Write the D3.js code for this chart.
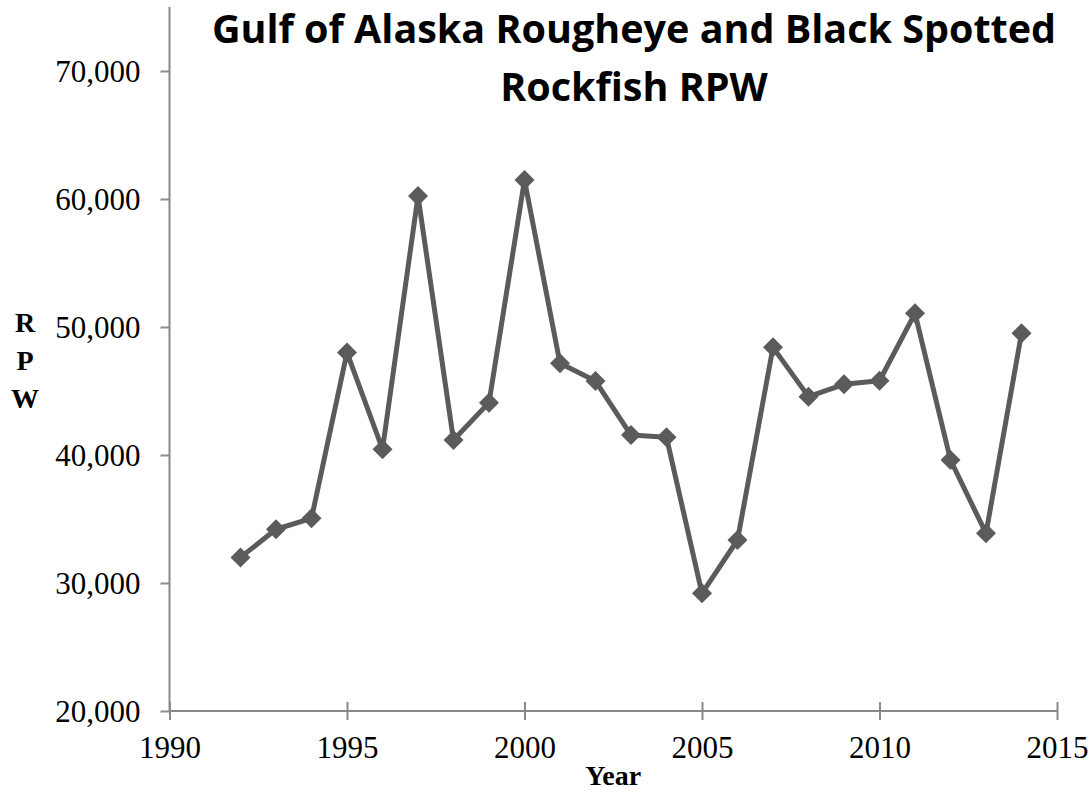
<!DOCTYPE html>
<html lang="en">
<head>
    <meta charset="UTF-8">
    <script src="https://d3js.org/d3.v7.min.js"></script>
    <style>
        body { margin: 0; background: #fff; }
        .tick-label { font-family: "Liberation Serif", "Times New Roman", serif; font-size: 31px; fill: #000; }
        .axis-title { font-family: "Liberation Serif", "Times New Roman", serif; font-size: 28px; font-weight: bold; fill: #000; }
        .title { font-family: "Open Sans", Calibri, sans-serif; font-size: 39.5px; font-weight: bold; fill: #000; }
    </style>
</head>
<body>
    <svg id="canvas" width="1091" height="792"></svg>
    <script>
        // data
        const years = [1992, 1993, 1994, 1995, 1996, 1997, 1998, 1999, 2000, 2001, 2002, 2003,
            2004, 2005, 2006, 2007, 2008, 2009, 2010, 2011, 2012, 2013, 2014];
        const rpw = [32000, 34200, 35050, 48000, 40450, 60230, 41170, 44090, 61480, 47160, 45780, 41560,
            41380, 29190, 33360, 48410, 44560, 45520, 45800, 51070, 39610, 33880, 49510];
        const xTicks = [1990, 1995, 2000, 2005, 2010, 2015];
        const yTicks = [20000, 30000, 40000, 50000, 60000, 70000];
        const titleLines = ["Gulf of Alaska Rougheye and Black Spotted", "Rockfish RPW"];

        const data = years.map((y, i) => ({ year: y, value: rpw[i] }));

        let svg = d3.select("#canvas");
        const axisColor = "#898989";
        const lineColor = "#5b5b5b";

        const xScale = d3.scaleLinear().domain([1990, 2015]).range([169.5, 1057]);
        const yScale = d3.scaleLinear().domain([20000, 75000]).range([711, 7]);

        // y axis
        let yAxis = svg.append("g").attr("transform", `translate(${xScale(1990)},0)`)
            .call(d3.axisLeft(yScale).tickValues(yTicks).tickSize(9).tickPadding(20)
                .tickFormat(d3.format(",")));
        yAxis.select(".domain").attr("stroke", axisColor).attr("stroke-width", 2)
            .attr("d", `M0,${yScale(20000)}V${yScale(75000)}`);
        yAxis.selectAll(".tick line").attr("stroke", axisColor).attr("stroke-width", 2);
        yAxis.selectAll(".tick text").attr("class", "tick-label").attr("dy", "0.34em");

        // x axis
        let xAxis = svg.append("g").attr("transform", `translate(0,${yScale(20000)})`)
            .call(d3.axisBottom(xScale).tickValues(xTicks).tickSize(9)
                .tickFormat(d3.format("d")));
        xAxis.select(".domain").attr("stroke", axisColor).attr("stroke-width", 2)
            .attr("d", `M${xScale(1990)},0H${xScale(2015)}`);
        xAxis.selectAll(".tick line").attr("stroke", axisColor).attr("stroke-width", 2)
            .attr("y1", -9).attr("y2", 9);
        xAxis.selectAll(".tick text").attr("class", "tick-label").attr("y", 47).attr("dy", null);

        // axis titles
        svg.append("text").attr("class", "axis-title")
            .attr("x", (xScale(1990) + xScale(2015)) / 2).attr("y", 785)
            .attr("text-anchor", "middle").text("Year");
        svg.append("g").selectAll("text")
            .data(["R", "P", "W"])
            .join("text")
            .attr("class", "axis-title")
            .attr("x", 25).attr("y", (d, i) => 332 + i * 38)
            .attr("text-anchor", "middle")
            .text(d => d);

        // title
        svg.append("g").selectAll("text")
            .data(titleLines)
            .join("text")
            .attr("class", "title")
            .attr("x", 634).attr("y", (d, i) => 43 + i * 58)
            .attr("text-anchor", "middle")
            .text(d => d);

        // series line
        const lineGenerator = d3.line()
            .x(d => xScale(d.year))
            .y(d => yScale(d.value));

        svg.append("path")
            .datum(data)
            .attr("d", lineGenerator)
            .attr("fill", "none")
            .attr("stroke", lineColor)
            .attr("stroke-width", 5)
            .attr("stroke-linejoin", "round");

        // diamond markers
        svg.append("g").selectAll("path")
            .data(data)
            .join("path")
            .attr("transform", d => `translate(${xScale(d.year)},${yScale(d.value)})`)
            .attr("d", "M0,-10L10,0L0,10L-10,0Z")
            .attr("fill", lineColor);
    </script>
</body>
</html>
